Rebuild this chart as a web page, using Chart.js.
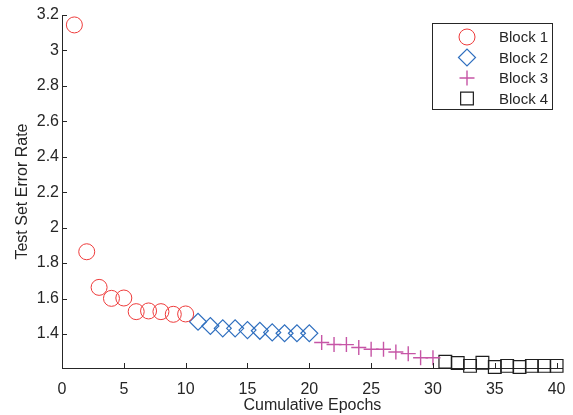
<!DOCTYPE html>
<html>
<head>
<meta charset="utf-8">
<script src="https://cdn.jsdelivr.net/npm/chart.js@4"></script>
<style>
  html, body { margin: 0; padding: 0; background: #fff; }
  #wrap { width: 573px; height: 415px; }
</style>
</head>
<body>
<div id="wrap"><canvas id="chartEpochs"></canvas></div>
<script>
// data
const block1X = [1, 2, 3, 4, 5, 6, 7, 8, 9, 10];
const block1Y = [3.144, 1.864, 1.663, 1.601, 1.603, 1.526, 1.530, 1.526, 1.511, 1.513];
const block2X = [11, 12, 13, 14, 15, 16, 17, 18, 19, 20];
const block2Y = [1.469, 1.445, 1.432, 1.432, 1.422, 1.418, 1.409, 1.404, 1.404, 1.404];
const block3X = [21, 22, 23, 24, 25, 26, 27, 28, 29, 30];
const block3Y = [1.352, 1.341, 1.340, 1.324, 1.314, 1.314, 1.298, 1.289, 1.266, 1.266];
const block4X = [31, 32, 33, 34, 35, 36, 37, 38, 39, 40];
const block4Y = [1.243, 1.236, 1.220, 1.238, 1.214, 1.220, 1.214, 1.220, 1.220, 1.220];

const blockNames = ['Block 1', 'Block 2', 'Block 3', 'Block 4'];
const xTicks = [0, 5, 10, 15, 20, 25, 30, 35, 40];
const yTicks = [1.4, 1.6, 1.8, 2, 2.2, 2.4, 2.6, 2.8, 3, 3.2];

const FONT = 'Liberation Sans, Arial, Helvetica, sans-serif';
const INK = '#262626';

function toPoints(xs, ys) {
    return xs.map((x, i) => ({ x: x, y: ys[i] }));
}

function serie(label, xs, ys, style, color, radius, width) {
    return {
        label: label,
        data: toPoints(xs, ys),
        showLine: false,
        pointStyle: style,
        pointRadius: radius,
        pointHoverRadius: radius,
        pointBorderColor: color,
        pointBackgroundColor: 'rgba(0,0,0,0)',
        pointBorderWidth: width,
        borderColor: color,
        backgroundColor: 'rgba(0,0,0,0)',
        clip: false
    };
}

// ticks hacia dentro, como en MATLAB
const inwardTicks = {
    id: 'inwardTicks',
    afterDatasetsDraw(chart) {
        const ctx = chart.ctx;
        const xs = chart.scales.x, ys = chart.scales.y;
        const area = chart.chartArea;
        ctx.save();
        ctx.strokeStyle = INK;
        ctx.lineWidth = 1;
        ctx.beginPath();
        xTicks.forEach(v => {
            const px = Math.round(xs.getPixelForValue(v)) + 0.5;
            ctx.moveTo(px, area.bottom);
            ctx.lineTo(px, area.bottom - 5);
        });
        yTicks.forEach(v => {
            const py = Math.round(ys.getPixelForValue(v)) + 0.5;
            ctx.moveTo(area.left, py);
            ctx.lineTo(area.left + 5, py);
        });
        ctx.stroke();
        ctx.restore();
    }
};

// leyenda en recuadro arriba a la derecha
const boxLegend = {
    id: 'boxLegend',
    afterDraw(chart) {
        const ctx = chart.ctx;
        const left = 432.5, top = 23.5, w = 120, h = 86;
        ctx.save();
        ctx.fillStyle = '#fff';
        ctx.fillRect(left, top, w, h);
        ctx.strokeStyle = INK;
        ctx.lineWidth = 1;
        ctx.strokeRect(left, top, w, h);
        ctx.font = '15px ' + FONT;
        ctx.textBaseline = 'middle';
        ctx.textAlign = 'left';
        chart.data.datasets.forEach((ds, i) => {
            const y = 37 + i * 20.5;
            ctx.strokeStyle = ds.pointBorderColor;
            ctx.fillStyle = 'rgba(0,0,0,0)';
            ctx.lineWidth = ds.pointBorderWidth;
            Chart.helpers.drawPoint(ctx, { pointStyle: ds.pointStyle, radius: ds.pointRadius, rotation: 0, borderWidth: ds.pointBorderWidth }, 467, y);
            ctx.fillStyle = INK;
            ctx.fillText(ds.label, 499, y + 1);
        });
        ctx.restore();
    }
};

new Chart(document.getElementById('chartEpochs').getContext('2d'), {
    type: 'scatter',
    data: {
        datasets: [
            serie(blockNames[0], block1X, block1Y, 'circle', '#ee3b3b', 8, 1),
            serie(blockNames[1], block2X, block2Y, 'rectRot', '#2f6fbf', 8.5, 1.2),
            serie(blockNames[2], block3X, block3Y, 'cross', '#c655a6', 7.5, 1.4),
            serie(blockNames[3], block4X, block4Y, 'rect', '#1e1e1e', 9, 1.2)
        ]
    },
    options: {
        responsive: true,
        maintainAspectRatio: false,
        animation: false,
        events: [],
        layout: { padding: { top: 15, right: 6, left: 0, bottom: 0 } },
        plugins: {
            legend: { display: false },
            tooltip: { enabled: false }
        },
        scales: {
            x: {
                type: 'linear',
                min: 0,
                max: 40.5,
                afterBuildTicks(scale) { scale.ticks = xTicks.map(v => ({ value: v })); },
                afterFit(scale) {
                    scale.height = 47;
                    scale.paddingLeft = 0;
                    scale.paddingRight = 0;
                },
                grid: { display: false, drawTicks: false },
                border: { display: true, color: INK, width: 1 },
                ticks: {
                    color: INK, padding: 12, maxRotation: 0,
                    font: { family: FONT, size: 16 },
                    callback: v => String(v)
                },
                title: {
                    display: true,
                    text: 'Cumulative Epochs',
                    color: INK,
                    padding: { top: 0, bottom: 0 },
                    font: { family: FONT, size: 16 }
                }
            },
            y: {
                type: 'linear',
                min: 1.208,
                max: 3.2,
                afterBuildTicks(scale) { scale.ticks = yTicks.map(v => ({ value: v })); },
                afterFit(scale) {
                    scale.width = 62;
                    scale.paddingTop = 0;
                    scale.paddingBottom = 0;
                },
                grid: { display: false, drawTicks: false },
                border: { display: true, color: INK, width: 1 },
                ticks: {
                    color: INK, padding: 3,
                    font: { family: FONT, size: 16 },
                    callback: v => String(+v.toFixed(1))
                },
                title: {
                    display: true,
                    text: 'Test Set Error Rate',
                    color: INK,
                    padding: { top: 13, bottom: 0 },
                    font: { family: FONT, size: 16 }
                }
            }
        }
    },
    plugins: [inwardTicks, boxLegend]
});
</script>
</body>
</html>
